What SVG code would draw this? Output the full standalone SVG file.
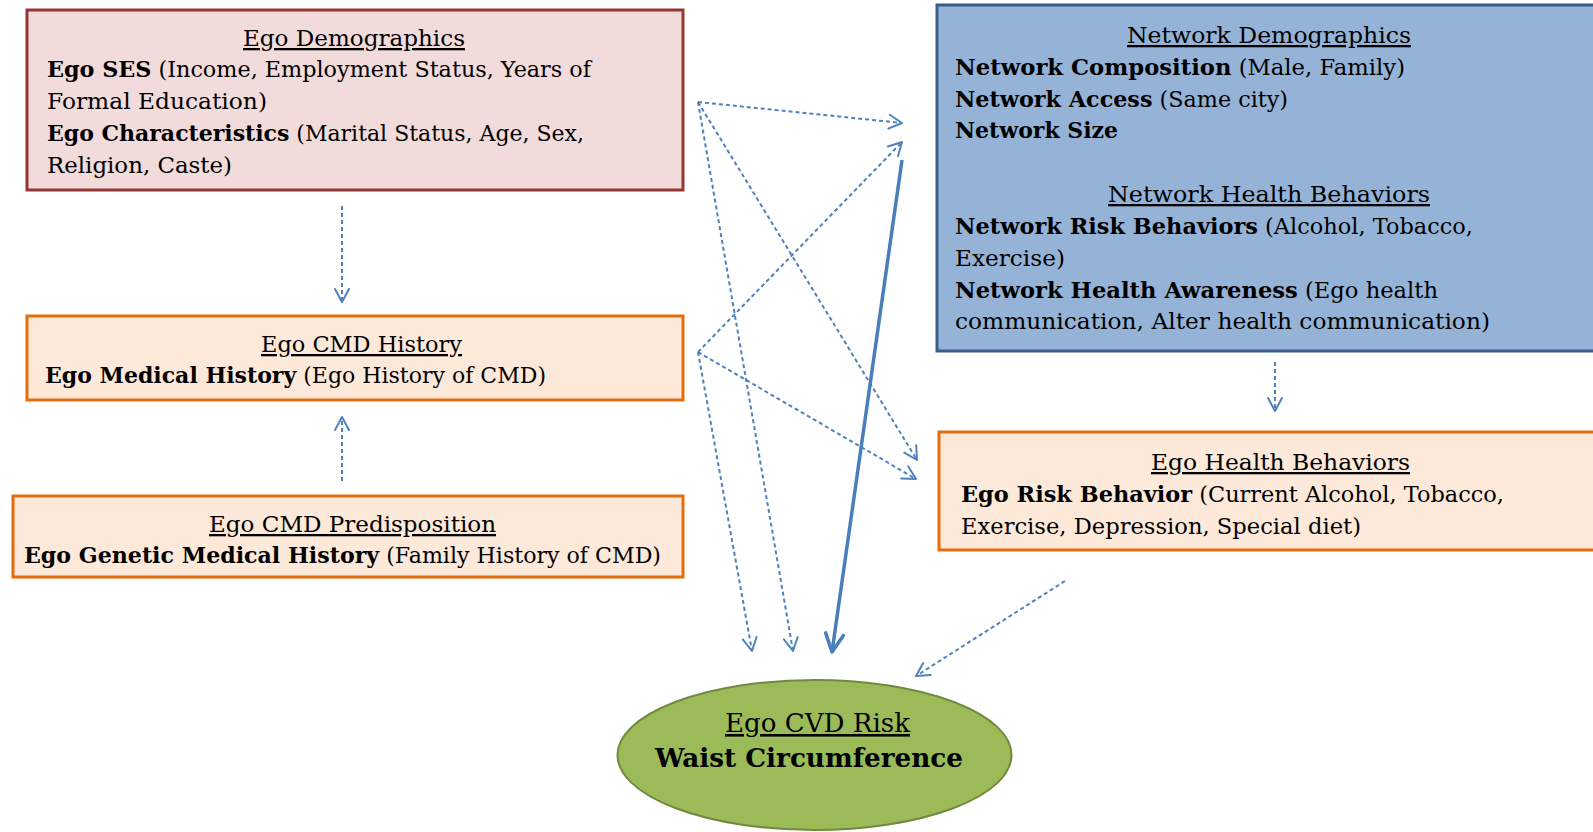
<svg xmlns="http://www.w3.org/2000/svg" width="1593" height="832" viewBox="0 0 1593 832">
  <style>
    text { font-family: "DejaVu Serif", "Liberation Serif", serif; font-size: 23px; fill: #000; }
    .title { text-decoration: underline; }
    .b { font-weight: bold; }
    .pink { fill: #f2dcdb; stroke: #953735; stroke-width: 3; }
    .blue { fill: #95b3d7; stroke: #385d8a; stroke-width: 3; }
    .peach { fill: #fde9d9; stroke: #e46c0a; stroke-width: 3; }
    .green { fill: #9bbb59; stroke: #71893f; stroke-width: 2; }
    .big { font-size: 26px; }
    .dash { fill: none; stroke: #4f81bd; stroke-width: 2; stroke-dasharray: 4 3; marker-end: url(#chev); }
    .solid { fill: none; stroke: #4a7ebb; stroke-width: 3.5; marker-end: url(#chevBig); }
  </style>
  <defs>
    <marker id="chev" markerUnits="userSpaceOnUse" viewBox="-16 -10 20 20" refX="0" refY="0" markerWidth="20" markerHeight="20" orient="auto" overflow="visible">
      <path d="M-13,-7 L0,0 L-13,7" fill="none" stroke="#4f81bd" stroke-width="2" stroke-linecap="round" stroke-linejoin="round"/>
    </marker>
    <marker id="chevBig" markerUnits="userSpaceOnUse" viewBox="-20 -12 24 24" refX="0" refY="0" markerWidth="24" markerHeight="24" orient="auto" overflow="visible">
      <path d="M-18,-9 L0,0 L-18,9" fill="none" stroke="#4a7ebb" stroke-width="3.5" stroke-linecap="round" stroke-linejoin="round"/>
    </marker>
  </defs>

  <rect width="1593" height="832" fill="#ffffff"/>

  <!-- Ego demographics -->
  <g id="ego-demographics">
    <rect class="pink" x="27" y="10" width="656" height="180"/>
    <text class="title" x="243" y="46" textLength="222" lengthAdjust="spacingAndGlyphs">Ego Demographics</text>
    <text x="47" y="77" textLength="544" lengthAdjust="spacingAndGlyphs"><tspan class="b">Ego SES</tspan> (Income, Employment Status, Years of</text>
    <text x="47" y="109" textLength="220" lengthAdjust="spacingAndGlyphs">Formal Education)</text>
    <text x="47" y="141" textLength="537" lengthAdjust="spacingAndGlyphs"><tspan class="b">Ego Characteristics</tspan> (Marital Status, Age, Sex,</text>
    <text x="47" y="173" textLength="185" lengthAdjust="spacingAndGlyphs">Religion, Caste)</text>
  </g>

  <!-- Network demographics and health behaviours -->
  <g id="network">
    <rect class="blue" x="937" y="5" width="680" height="346"/>
    <text class="title" x="1127" y="43" textLength="284" lengthAdjust="spacingAndGlyphs">Network Demographics</text>
    <text x="955" y="75" textLength="450" lengthAdjust="spacingAndGlyphs"><tspan class="b">Network Composition</tspan> (Male, Family)</text>
    <text x="955" y="107" textLength="333" lengthAdjust="spacingAndGlyphs"><tspan class="b">Network Access</tspan> (Same city)</text>
    <text class="b" x="955" y="138" textLength="163" lengthAdjust="spacingAndGlyphs">Network Size</text>
    <text class="title" x="1108" y="202" textLength="322" lengthAdjust="spacingAndGlyphs">Network Health Behaviors</text>
    <text x="955" y="234" textLength="518" lengthAdjust="spacingAndGlyphs"><tspan class="b">Network Risk Behaviors</tspan> (Alcohol, Tobacco,</text>
    <text x="955" y="266" textLength="110" lengthAdjust="spacingAndGlyphs">Exercise)</text>
    <text x="955" y="298" textLength="483" lengthAdjust="spacingAndGlyphs"><tspan class="b">Network Health Awareness</tspan> (Ego health</text>
    <text x="955" y="329" textLength="535" lengthAdjust="spacingAndGlyphs">communication, Alter health communication)</text>
  </g>

  <!-- Ego CMD history -->
  <g id="ego-cmd-history">
    <rect class="peach" x="27" y="316" width="656" height="84"/>
    <text class="title" x="261" y="352" textLength="201" lengthAdjust="spacingAndGlyphs">Ego CMD History</text>
    <text x="45" y="383" textLength="501" lengthAdjust="spacingAndGlyphs"><tspan class="b">Ego Medical History</tspan>  (Ego History of CMD)</text>
  </g>

  <!-- Ego CMD predisposition -->
  <g id="ego-cmd-predisposition">
    <rect class="peach" x="13" y="496" width="670" height="81"/>
    <text class="title" x="209" y="532" textLength="287" lengthAdjust="spacingAndGlyphs">Ego CMD Predisposition</text>
    <text x="24" y="563" textLength="637" lengthAdjust="spacingAndGlyphs"><tspan class="b">Ego Genetic Medical History</tspan>  (Family History of CMD)</text>
  </g>

  <!-- Ego health behaviours -->
  <g id="ego-health-behaviors">
    <rect class="peach" x="939" y="432" width="680" height="118"/>
    <text class="title" x="1151" y="470" textLength="259" lengthAdjust="spacingAndGlyphs">Ego Health Behaviors</text>
    <text x="961" y="502" textLength="543" lengthAdjust="spacingAndGlyphs"><tspan class="b">Ego Risk Behavior</tspan> (Current Alcohol, Tobacco,</text>
    <text x="961" y="534" textLength="400" lengthAdjust="spacingAndGlyphs">Exercise, Depression, Special diet)</text>
  </g>

  <!-- Outcome -->
  <g id="ego-cvd-risk">
    <ellipse class="green" cx="814.5" cy="755" rx="197" ry="75"/>
    <text class="title big" x="725" y="732" textLength="185" lengthAdjust="spacingAndGlyphs">Ego CVD Risk</text>
    <text class="b big" x="655" y="767" textLength="308" lengthAdjust="spacingAndGlyphs">Waist Circumference</text>
  </g>

  <!-- Connectors -->
  <g id="connectors">
    <line class="dash" x1="342" y1="206" x2="342" y2="302"/>
    <line class="dash" x1="342" y1="481" x2="342" y2="417"/>
    <line class="dash" x1="698" y1="102" x2="902" y2="123"/>
    <line class="dash" x1="698" y1="102" x2="917" y2="460"/>
    <line class="dash" x1="698" y1="102" x2="793" y2="651"/>
    <line class="dash" x1="698" y1="352" x2="902" y2="142"/>
    <line class="dash" x1="698" y1="352" x2="916" y2="479"/>
    <line class="dash" x1="698" y1="352" x2="752" y2="651"/>
    <line class="solid" x1="902" y1="160" x2="832" y2="652"/>
    <line class="dash" x1="1065" y1="581" x2="916" y2="676"/>
    <line class="dash" x1="1275" y1="362" x2="1275" y2="411"/>
  </g>
</svg>
